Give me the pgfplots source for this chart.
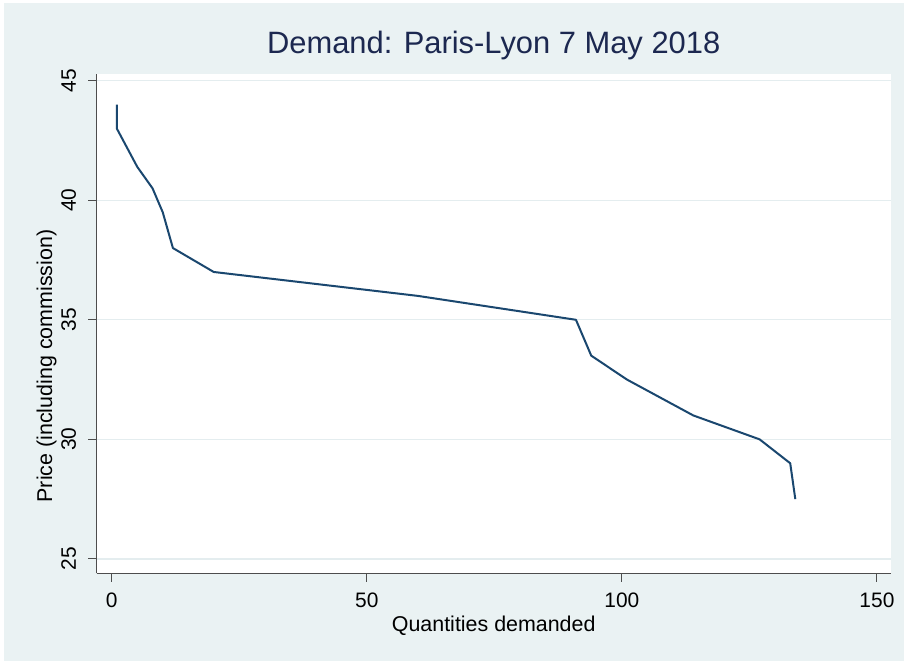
\documentclass[border=0pt]{standalone}
\usepackage{pgfplots}
\pgfplotsset{compat=1.18}
\usepackage{fontspec}
\setmainfont{Liberation Sans}
\definecolor{bgc}{HTML}{EAF2F3}
\definecolor{gridc}{HTML}{E4EDEF}
\definecolor{linec}{HTML}{1A476F}
\definecolor{titlec}{HTML}{1C2850}
\definecolor{axc}{HTML}{4D4D4D}
\begin{document}
\begin{tikzpicture}[x=1bp,y=1bp]
\path[use as bounding box, fill=white] (0,0) rectangle (904,661);
\fill[bgc] (4,0) rectangle (904,658);
\begin{axis}[
  at={(96.7bp,87.5bp)}, anchor=south west,
  scale only axis, width=794bp, height=499.5bp,
  xmin=-2.94, xmax=152.7, ymin=24.39, ymax=45.28,
  axis background/.style={fill=white},
  axis x line=bottom, axis y line=left,
  axis line style={-, draw=axc, line width=1bp},
  tick align=outside, major tick length=8.4bp,
  tick style={draw=axc, line width=1bp},
  xtick={0,50,100,150}, ytick={25,30,35,40,45},
  minor tick num=0,
  ymajorgrids, grid style={draw=gridc, line width=1.3bp},
  /pgf/number format/assume math mode=true,
  tick label style={font=\fontsize{21}{24}\selectfont, text=black},
  xticklabel style={anchor=north, inner sep=0pt, yshift=-11bp},
  yticklabel shift=12bp,
  yticklabel style={rotate=90, anchor=south, inner sep=0pt},
  title={Demand: Paris-Lyon 7 May 2018},
  title style={font=\fontsize{31}{36}\selectfont, text=titlec, at={(axis description cs:0.5,1.03)}, anchor=base, inner sep=0pt},
  xlabel={Quantities demanded},
  xlabel style={font=\fontsize{21.5}{25}\selectfont, at={(axis description cs:0.5,-0.1165)}, anchor=base, inner sep=0pt},
  ylabel={Price (including commission)},
  ylabel style={font=\fontsize{21.5}{25}\selectfont, at={(axis description cs:-0.056,0.4154)}, anchor=base, rotate=0, inner sep=0pt},
  clip=false,
]
\addplot[linec, line width=2bp, line join=round] coordinates {
  (1,44) (1,43) (5,41.4) (8,40.5) (10,39.5) (12,38) (20,37)
  (60,36) (91,35) (94,33.5) (101,32.5) (114,31) (127,30) (133,29) (134,27.5)
};
\end{axis}
\end{tikzpicture}
\end{document}
